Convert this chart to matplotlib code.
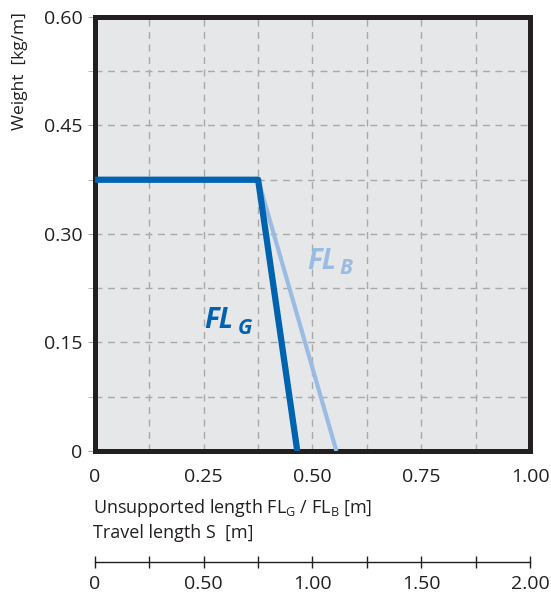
import matplotlib.pyplot as plt
from matplotlib.ticker import MultipleLocator

plt.rcParams['font.family'] = ['Open Sans', 'DejaVu Sans']

# Data
fl_g_x = [0, 0.375, 0.465]
fl_g_y = [0.375, 0.375, 0]
fl_b_x = [0.375, 0.555]
fl_b_y = [0.375, 0]

x_ticks = [0, 0.25, 0.50, 0.75, 1.00]
x_labels = ['0', '0.25', '0.50', '0.75', '1.00']
y_ticks = [0, 0.15, 0.30, 0.45, 0.60]
y_labels = ['0', '0.15', '0.30', '0.45', '0.60']
s_ticks = [0, 0.5, 1.0, 1.5, 2.0]
s_labels = ['0', '0.50', '1.00', '1.50', '2.00']

dark = '#231f20'
blue_g = '#0063b0'
blue_b = '#9bbce2'

fig = plt.figure(figsize=(5.51, 5.96), dpi=100)
ax = fig.add_axes([0.1724, 0.2433, 0.7895, 0.7282])
ax.set_facecolor('#e6e7e9')

ax.plot(fl_b_x, fl_b_y, color=blue_b, lw=3, solid_capstyle='butt', zorder=3)
ax.plot(fl_g_x, fl_g_y, color=blue_g, lw=4.5, solid_capstyle='butt', zorder=4)

ax.set_xlim(0, 1)
ax.set_ylim(0, 0.6)
ax.set_xticks(x_ticks)
ax.set_xticklabels(x_labels, fontsize=14, color=dark)
ax.set_yticks(y_ticks)
ax.set_yticklabels(y_labels, fontsize=14, color=dark)
ax.xaxis.set_minor_locator(MultipleLocator(0.125))
ax.yaxis.set_minor_locator(MultipleLocator(0.075))
ax.grid(True, which='both', color='#a8a9ab', linestyle=(0, (5, 4)), lw=1, zorder=1)
ax.tick_params(axis='x', which='both', length=0, pad=12)
ax.tick_params(axis='y', which='both', length=5, color='#a8a9ab', direction='out', pad=4)
for s in ax.spines.values():
    s.set_linewidth(3.6)
    s.set_color(dark)

ax.set_ylabel('Weight  [kg/m]', fontsize=12.5, color=dark)
ax.yaxis.set_label_coords(-0.155, 0.875)

# curve labels
ax.text(0.252, 0.17, 'FL', color=blue_g, fontsize=20, fontweight='bold', style='italic')
ax.text(0.328, 0.162, 'G', color=blue_g, fontsize=15, fontweight='bold', style='italic')
ax.text(0.487, 0.252, 'FL', color=blue_b, fontsize=20, fontweight='bold', style='italic')
ax.text(0.563, 0.244, 'B', color=blue_b, fontsize=15, fontweight='bold', style='italic')

# axis captions
fig.text(0.169, 0.14, 'Unsupported length FL$_{\\mathregular{G}}$ / FL$_{\\mathregular{B}}$ [m]',
         fontsize=13, color=dark)
fig.text(0.169, 0.098, 'Travel length S  [m]', fontsize=13, color=dark)

# travel length scale
ax2 = fig.add_axes([0.1724, 0.057, 0.7895, 0.0001])
ax2.set_xlim(0, 2)
ax2.set_ylim(0, 1)
ax2.set_xticks(s_ticks)
ax2.set_xticklabels(s_labels, fontsize=14, color=dark)
ax2.xaxis.set_minor_locator(MultipleLocator(0.25))
ax2.set_yticks([])
for k in ['top', 'left', 'right']:
    ax2.spines[k].set_visible(False)
ax2.spines['bottom'].set_linewidth(1)
ax2.spines['bottom'].set_color(dark)
ax2.tick_params(axis='x', which='both', direction='inout', length=9, width=1, color=dark, pad=5)

plt.savefig('out.png', dpi=100)
